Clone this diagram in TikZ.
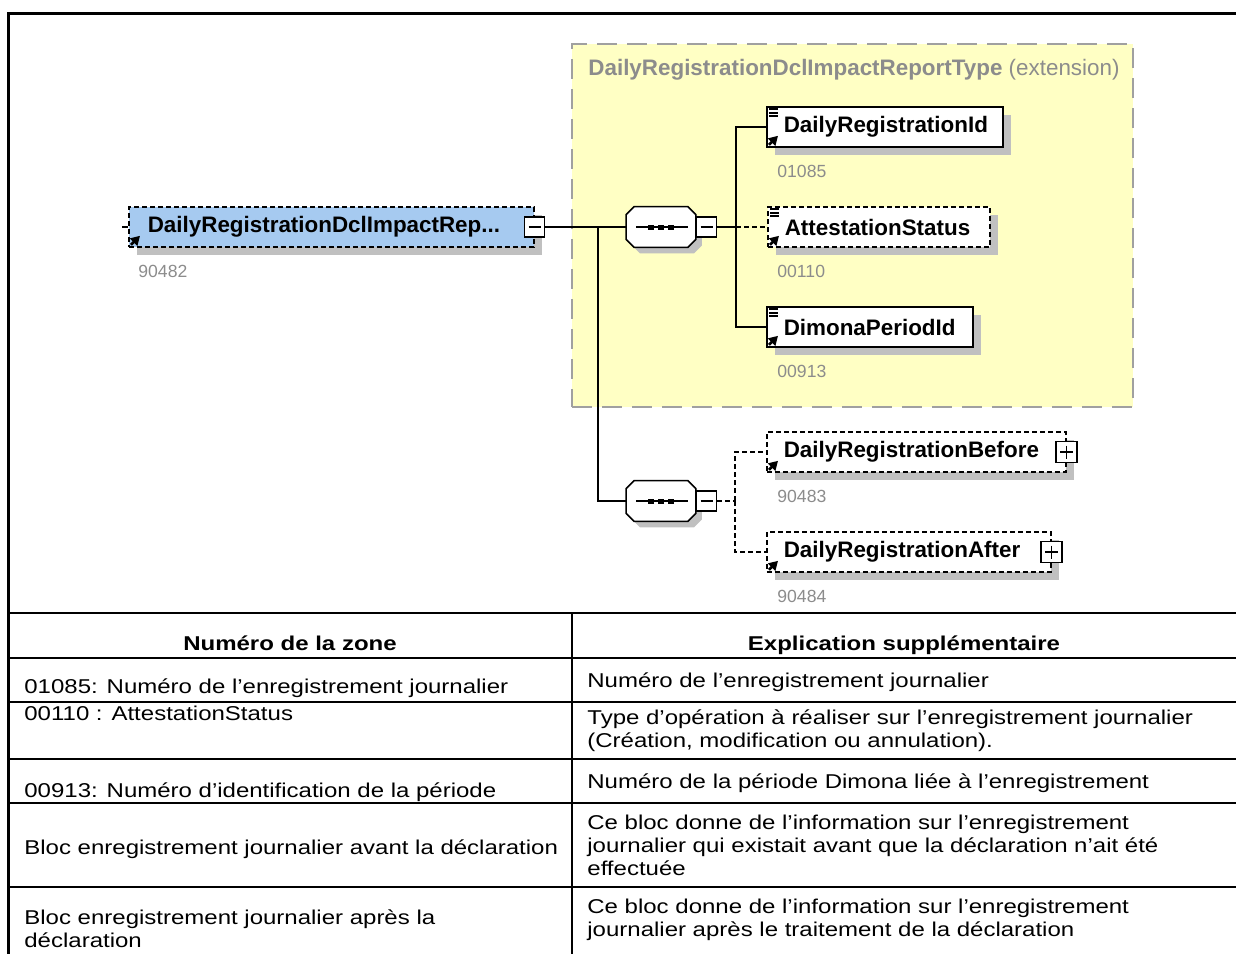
\documentclass[tikz,border=0pt]{standalone}
\usepackage{xcolor}
\usepackage{fontspec}
\setmainfont{Liberation Sans}
\newfontfamily\tablefont[FakeStretch=1.2]{Liberation Sans}
\usepackage{tikz}
\usetikzlibrary{positioning}
\usetikzlibrary{arrows.meta}
\usetikzlibrary{shadows}
\hyphenpenalty=10000
\definecolor{RootBlue}{HTML}{A6CAF0}
\definecolor{ExtYellow}{HTML}{FFFFC4}
\definecolor{ExtGray}{HTML}{A0A0A0}
\definecolor{ShadowGray}{HTML}{C0C0C0}
\definecolor{IdGray}{HTML}{8C8C8C}
\tikzset{
	wire/.style={line width=0.6pt}, % lignes entre les blocs
	elem/.style={ % un element du schema
			draw, line width=0.8pt, fill=white, anchor=west,
			inner xsep=8.5pt, inner ysep=0pt, minimum height=20pt,
			align=left, font=\bfseries\fontsize{11.2}{13}\selectfont,
			drop shadow={shadow xshift=4pt, shadow yshift=-4pt, fill=ShadowGray, opacity=1}
		},
	opt/.style={dash pattern=on 2.5pt off 1.5pt}, % element optionnel
	seq/.style={minimum width=34.5pt, minimum height=20pt, inner sep=0pt}, % sequence
	pmbox/.style={draw, line width=0.7pt, fill=white, minimum size=10pt, inner sep=0pt},
	collapsebox/.style={pmbox, path picture={
			\draw[line width=0.6pt] ([xshift=2pt]path picture bounding box.west) -- ([xshift=-2pt]path picture bounding box.east);}},
	expandbox/.style={pmbox, minimum size=10.5pt, path picture={
			\draw[line width=0.6pt] ([xshift=2pt]path picture bounding box.west) -- ([xshift=-2pt]path picture bounding box.east);
			\draw[line width=0.6pt] ([yshift=-2pt]path picture bounding box.north) -- ([yshift=2pt]path picture bounding box.south);}},
	idlbl/.style={anchor=north west, inner sep=0pt, text=IdGray, font=\fontsize{8.8}{10}\selectfont},
	extbox/.style={anchor=north west, draw=ExtGray, fill=ExtYellow, line width=1pt, dash pattern=on 10pt off 5pt},
	frame/.style={line width=1.5pt},
	rule/.style={line width=1pt},
	hdr/.style={anchor=base, inner sep=0pt, font=\tablefont\bfseries\fontsize{10}{11.5}\selectfont},
	cell/.style={anchor=north west, inner sep=0pt, align=left, font=\tablefont\fontsize{10}{11.5}\selectfont}
}
\newcommand{\octpath}[1]{([xshift=4pt]#1.north west) -- ([xshift=-4pt]#1.north east) -- ([yshift=-4pt]#1.north east) -- ([yshift=4pt]#1.south east) -- ([xshift=-4pt]#1.south east) -- ([xshift=4pt]#1.south west) -- ([yshift=4pt]#1.south west) -- ([yshift=-4pt]#1.north west) -- cycle}
\newcommand{\seqicon}[1]{%
	\fill[ShadowGray, transform canvas={shift={(3pt,-3pt)}}] \octpath{#1};
	\draw[line width=0.8pt, fill=white] \octpath{#1};
	\draw[line width=0.8pt] ([xshift=5pt]#1.west) -- ([xshift=-4pt]#1.east);
	\foreach \d in {-10,0,10}
		\fill ([shift={(\d-3,-2.5)}]#1.center) rectangle +(6,5);
}
\newcommand{\listicon}[1]{\draw[line width=0.8pt] ([shift={(3,3)}]#1.north west) -- ++(9,0) ([shift={(3,6.5)}]#1.north west) -- ++(9,0) ([shift={(3,10)}]#1.north west) -- ++(9,0);}
\newcommand{\reficon}[1]{\draw[line width=1.3pt, -{Triangle[length=4.5pt, width=5pt]}] ([shift={(3,-3)}]#1.south west) -- ++(9,-9);}

\begin{document}
\begin{tikzpicture}[x=0.5pt, y=-0.5pt]
	\useasboundingbox (0,0) rectangle (1236,953);

	% Cadre et tableau
	\draw[frame] (8,960) -- (8,13) -- (1240,13);
	\foreach \y in {613,658,702,759,803,887}
		\draw[rule] (8,\y) -- (1240,\y);
	\draw[rule] (572,613) -- (572,960);

	% Type etendu
	\node (ext) [extbox, minimum width=280.5pt, minimum height=181.5pt] at (571,43) {};
	\node (extname) [anchor=base west, inner sep=0pt, text=IdGray, font=\fontsize{11.2}{13}\selectfont] at (588,75) {\textbf{DailyRegistrationDclImpactReportType} (extension)};

	% Nodes
	\node (root) [elem, opt, fill=RootBlue, inner xsep=9.5pt, text width=183.5pt] at (128,227) {DailyRegistrationDclImpactRep...};
	\node (rootpm) [collapsebox] at (root.east) {};
	\node (seqA) [seq] at (661,227) {};
	\seqicon{seqA}
	\node (seqApm) [collapsebox, right=0pt of seqA] {};
	\node (drid) [elem, text width=101pt] at (766,127) {DailyRegistrationId};
	\node (att) [elem, opt, text width=94pt] at (767,227) {AttestationStatus};
	\node (dimona) [elem, text width=86pt] at (766,327) {DimonaPeriodId};
	\node (seqB) [seq] at (661,501) {};
	\seqicon{seqB}
	\node (seqBpm) [collapsebox, right=0pt of seqB] {};
	\node (before) [elem, opt, text width=132.5pt] at (766,452) {DailyRegistrationBefore};
	\node (beforepm) [expandbox] at (before.east) {};
	\node (after) [elem, opt, text width=125pt] at (766,552) {DailyRegistrationAfter};
	\node (afterpm) [expandbox] at (after.east) {};

	% Numeros
	\node (rootid) [idlbl] at ([shift={(10,17)}]root.south west) {90482};
	\node (dridid) [idlbl] at ([shift={(11,17)}]drid.south west) {01085};
	\node (attid) [idlbl] at ([shift={(10,17)}]att.south west) {00110};
	\node (dimonaid) [idlbl] at ([shift={(11,17)}]dimona.south west) {00913};
	\node (beforeid) [idlbl] at ([shift={(11,17)}]before.south west) {90483};
	\node (afterid) [idlbl] at ([shift={(11,17)}]after.south west) {90484};

	% Icones
	\foreach \n in {drid, att, dimona} {\listicon{\n}}
	\foreach \n in {root, drid, att, dimona, before, after} {\reficon{\n}}

	% Liens
	\coordinate (fork) at (598,227);
	\coordinate (barA) at (736,227);
	\coordinate (barB) at (735,501);
	\draw[wire] (root.west) -- ++(-6,0);
	\draw[wire] (rootpm) -- (seqA);
	\draw[wire] (fork) |- (seqB);
	\draw[wire] (seqApm) -- (barA);
	\draw[wire] (barA) |- (drid);
	\draw[wire] (barA) |- (dimona);
	\draw[wire, opt] (barA) -- (att);
	\draw[wire, opt] (seqBpm) -- (barB);
	\draw[wire, opt] (barB) |- (before);
	\draw[wire, opt] (barB) |- (after);

	% Tableau
	\node (hzone) [hdr] at (290,650) {Numéro de la zone};
	\node (hexpl) [hdr] at (904,650) {Explication supplémentaire};
	\node (z1) [cell] at (24,677) {\strut 01085: Numéro de l’enregistrement journalier};
	\node (z2) [cell] at (24,704) {\strut 00110 : AttestationStatus};
	\node (z3) [cell] at (24,781) {\strut 00913: Numéro d’identification de la période};
	\node (z4) [cell] at (24,838) {\strut Bloc enregistrement journalier avant la déclaration};
	\node (z5) [cell] at (24,908) {\strut Bloc enregistrement journalier après la\\déclaration};
	\node (e1) [cell] at (587,671) {\strut Numéro de l’enregistrement journalier};
	\node (e2) [cell] at (587,708) {\strut Type d’opération à réaliser sur l’enregistrement journalier\\(Création, modification ou annulation).};
	\node (e3) [cell] at (587,772) {\strut Numéro de la période Dimona liée à l’enregistrement};
	\node (e4) [cell] at (587,813) {\strut Ce bloc donne de l’information sur l’enregistrement\\journalier qui existait avant que la déclaration n’ait été\\effectuée};
	\node (e5) [cell] at (587,897) {\strut Ce bloc donne de l’information sur l’enregistrement\\journalier après le traitement de la déclaration};
\end{tikzpicture}
\end{document}
